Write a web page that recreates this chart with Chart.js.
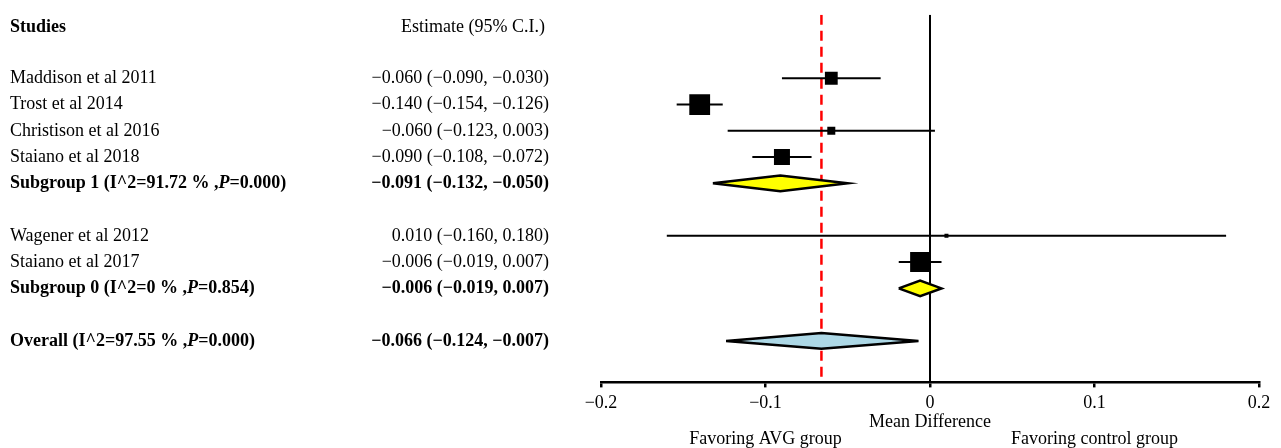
<!DOCTYPE html>
<html>
<head>
<meta charset="utf-8">
<script src="https://cdn.jsdelivr.net/npm/chart.js@4.4.1/dist/chart.umd.min.js"></script>
<style>
  html, body { margin: 0; padding: 0; background: #fff; }
  #wrap { width: 1281px; height: 448px; }
</style>
</head>
<body>
<div id="wrap"><canvas id="myChart" width="1281" height="448"></canvas></div>
<script>
'use strict'

// studies (one row each)
const studies = ['Maddison et al 2011', 'Trost et al 2014', 'Christison et al 2016', 'Staiano et al 2018', 'Wagener et al 2012', 'Staiano et al 2017'];
const studyRows = [2, 3, 4, 5, 8, 9];
const studyEst = [-0.060, -0.140, -0.060, -0.090, 0.010, -0.006];
const studyLow = [-0.090, -0.154, -0.123, -0.108, -0.160, -0.019];
const studyHigh = [-0.030, -0.126, 0.003, -0.072, 0.180, 0.007];
const studyWeight = [16, 26, 10, 20, 5, 25];

// pooled rows
const pooledNames = ['Subgroup 1', 'Subgroup 0', 'Overall'];
const pooledI2 = ['91.72', '0', '97.55'];
const pooledP = ['0.000', '0.854', '0.000'];
const pooledRows = [6, 10, 12];
const pooledEst = [-0.091, -0.006, -0.066];
const pooledLow = [-0.132, -0.019, -0.124];
const pooledHigh = [-0.050, 0.007, -0.007];
const pooledColors = ['#ffff00', '#ffff00', '#add8e6'];

const xTicks = [-0.2, -0.1, 0, 0.1, 0.2];
const overallLine = -0.066;

const FONT = '"Liberation Serif", "Times New Roman", serif';
const Y_MIN = -0.42;
const Y_MAX = 13.58;

function fmt(v) {
  return v.toFixed(3).replace('-', '\u2212');
}

/// *******************************
function createChart() {
  const ctx = document.getElementById('myChart').getContext('2d');
  const datasets = [];

  // boxes
  datasets.push({
    data: studyEst.map((v, i) => ({ x: v, y: studyRows[i] })),
    pointStyle: 'rect',
    pointRadius: studyWeight.map(w => w * 0.8 / Math.SQRT2),
    pointBackgroundColor: '#000',
    pointBorderColor: '#000',
    pointBorderWidth: 0,
    showLine: false,
    order: 0,
  });

  // confidence intervals
  for (let i = 0; i < studies.length; i++) {
    datasets.push({
      data: [{ x: studyLow[i], y: studyRows[i] }, { x: studyHigh[i], y: studyRows[i] }],
      showLine: true,
      borderColor: '#000',
      borderWidth: 2,
      pointRadius: 0,
      order: 2,
    });
  }

  // diamonds
  for (let i = 0; i < pooledNames.length; i++) {
    const r = pooledRows[i];
    const h = 0.3;
    datasets.push({
      data: [
        { x: pooledLow[i], y: r },
        { x: pooledEst[i], y: r - h },
        { x: pooledHigh[i], y: r },
        { x: pooledEst[i], y: r + h },
        { x: pooledLow[i], y: r },
      ],
      showLine: true,
      fill: 'shape',
      backgroundColor: pooledColors[i],
      borderColor: '#000',
      borderWidth: 2.5,
      pointRadius: 0,
      tension: 0,
      order: 1,
    });
  }

  // no-effect line
  datasets.push({
    data: [{ x: 0, y: Y_MIN }, { x: 0, y: Y_MAX }],
    showLine: true,
    borderColor: '#000',
    borderWidth: 2,
    pointRadius: 0,
    order: 3,
  });

  // overall estimate line
  datasets.push({
    data: [{ x: overallLine, y: Y_MIN }, { x: overallLine, y: Y_MAX }],
    showLine: true,
    borderColor: '#ff0000',
    borderWidth: 2.5,
    borderDash: [10, 6],
    pointRadius: 0,
    order: 4,
  });

  const textPlugin = {
    id: 'forestText',
    afterDraw(chart) {
      const c = chart.ctx;
      const ys = chart.scales.y;
      const xs = chart.scales.x;
      c.save();
      c.fillStyle = '#000';
      c.textBaseline = 'middle';

      // headers
      c.font = 'bold 18px ' + FONT;
      c.textAlign = 'left';
      c.fillText('Studies', 10, ys.getPixelForValue(0.05));
      c.font = '18px ' + FONT;
      c.textAlign = 'center';
      c.fillText('Estimate (95% C.I.)', 473, ys.getPixelForValue(0.05));

      // study rows
      for (let i = 0; i < studies.length; i++) {
        const y = ys.getPixelForValue(studyRows[i]);
        c.font = '18px ' + FONT;
        c.textAlign = 'left';
        c.fillText(studies[i], 10, y);
        c.textAlign = 'right';
        c.fillText(fmt(studyEst[i]) + ' (' + fmt(studyLow[i]) + ', ' + fmt(studyHigh[i]) + ')', 549, y);
      }

      // pooled rows, with italic P
      for (let i = 0; i < pooledNames.length; i++) {
        const y = ys.getPixelForValue(pooledRows[i]);
        const parts = [
          [pooledNames[i] + ' (I^2=' + pooledI2[i] + ' % ,', 'bold 18px '],
          ['P', 'bold italic 18px '],
          ['=' + pooledP[i] + ')', 'bold 18px '],
        ];
        let x = 10;
        c.textAlign = 'left';
        parts.forEach(p => {
          c.font = p[1] + FONT;
          c.fillText(p[0], x, y);
          x += c.measureText(p[0]).width;
        });
        c.font = 'bold 18px ' + FONT;
        c.textAlign = 'right';
        c.fillText(fmt(pooledEst[i]) + ' (' + fmt(pooledLow[i]) + ', ' + fmt(pooledHigh[i]) + ')', 549, y);
      }

      // axis title and favouring labels
      c.font = '18px ' + FONT;
      c.textAlign = 'center';
      c.fillText('Mean Difference', xs.getPixelForValue(0), 422);
      c.fillText('Favoring AVG group', xs.getPixelForValue(-0.1), 439);
      c.fillText('Favoring control group', xs.getPixelForValue(0.1), 439);
      c.restore();
    },
  };

  new Chart(ctx, {
    type: 'scatter',
    data: { datasets: datasets },
    options: {
      responsive: false,
      animation: false,
      layout: { padding: { left: 601, right: 22, top: 10, bottom: 29 } },
      plugins: { legend: { display: false }, tooltip: { enabled: false } },
      scales: {
        x: {
          type: 'linear',
          min: -0.2,
          max: 0.2,
          afterBuildTicks: (axis) => { axis.ticks = xTicks.map(v => ({ value: v })); },
          ticks: {
            color: '#000',
            font: { family: FONT, size: 18 },
            padding: 5,
            maxRotation: 0,
            callback: (v) => (v === 0 ? '0' : String(v).replace('-', '\u2212')),
          },
          grid: { drawOnChartArea: false, color: '#000', lineWidth: 2.5, tickLength: 5 },
          border: { color: '#000', width: 2.5 },
        },
        y: {
          type: 'linear',
          display: false,
          reverse: true,
          min: Y_MIN,
          max: Y_MAX,
        },
      },
    },
    plugins: [textPlugin],
  });
}

createChart();
</script>
</body>
</html>
